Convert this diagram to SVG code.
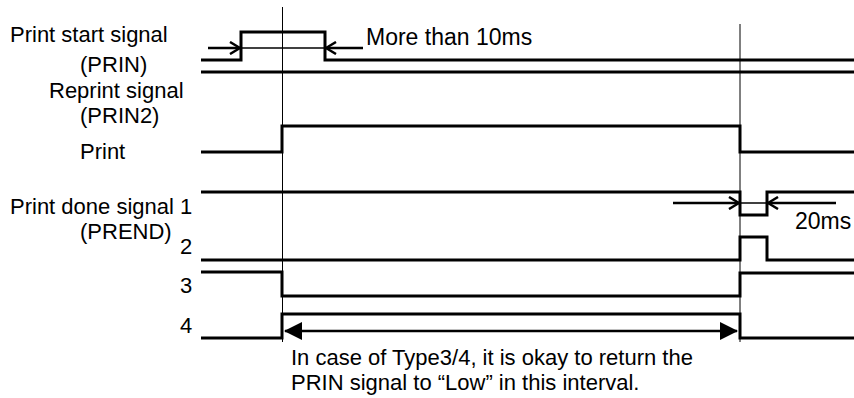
<svg xmlns="http://www.w3.org/2000/svg" width="854" height="398" viewBox="0 0 854 398">
<style>
text{font-family:"Liberation Sans",Arial,sans-serif;font-size:22px;fill:#000}
.dim{font-size:23px}
.sig{fill:none;stroke:#000;stroke-width:3;stroke-linejoin:miter}
.ref{fill:none;stroke:#000;stroke-width:1}
.thin{fill:none;stroke:#000;stroke-width:1.5}
.arr{fill:none;stroke:#000;stroke-width:2.5}
</style>
<defs>
<marker id="open" viewBox="0 0 12 14" refX="11" refY="7" markerWidth="12" markerHeight="14" markerUnits="userSpaceOnUse" orient="auto">
<path d="M1,1 L11,7 L1,13" fill="none" stroke="#000" stroke-width="2.5"/>
</marker>
<marker id="solid" viewBox="0 0 18 18" refX="17" refY="9" markerWidth="18" markerHeight="18" markerUnits="userSpaceOnUse" orient="auto-start-reverse">
<path d="M0,0 L18,9 L0,18 Z" fill="#000"/>
</marker>
</defs>
<g id="labels">
<text x="10" y="42">Print start signal</text>
<text x="80" y="72">(PRIN)</text>
<text x="49" y="98">Reprint signal</text>
<text x="80" y="123">(PRIN2)</text>
<text x="80" y="159">Print</text>
<text x="10" y="214">Print done signal 1</text>
<text x="80" y="239">(PREND)</text>
<text x="180" y="254">2</text>
<text x="180" y="293">3</text>
<text x="180" y="333">4</text>
</g>
<g id="reference-lines">
<line class="ref" x1="282.5" y1="7" x2="282.5" y2="342"/>
<line class="ref" x1="740" y1="24" x2="740" y2="342"/>
</g>
<g id="signals">
<path id="prin" class="sig" d="M201,60 H241 V32 H325 V60 H854"/>
<path id="prin2" class="sig" d="M201,72 H854"/>
<path id="print" class="sig" d="M201,152 H282 V126 H740 V152 H854"/>
<path id="prend1" class="sig" d="M201,192 H740 V215 H767 V192 H854"/>
<path id="prend2" class="sig" d="M201,260 H740 V237 H767 V260 H854"/>
<path id="prend3" class="sig" d="M201,272 H282 V296 H740 V273 H854"/>
<path id="prend4" class="sig" d="M201,338 H282 V314 H740 V338 H854"/>
</g>
<g id="connectors">
<line class="thin" x1="241" y1="48" x2="325" y2="48"/>
<line class="arr" x1="208" y1="48" x2="240" y2="48" marker-end="url(#open)"/>
<line class="arr" x1="363" y1="48" x2="326" y2="48" marker-end="url(#open)"/>
<line class="thin" x1="740" y1="203" x2="767" y2="203"/>
<line class="arr" x1="673" y1="203" x2="739" y2="203" marker-end="url(#open)"/>
<line class="arr" x1="836" y1="203" x2="768" y2="203" marker-end="url(#open)"/>
<line class="arr" x1="285" y1="331" x2="737" y2="331" stroke-width="2" marker-start="url(#solid)" marker-end="url(#solid)"/>
</g>
<g id="annotations">
<text class="dim" x="366" y="45">More than 10ms</text>
<text class="dim" x="795" y="229">20ms</text>
<text x="291" y="365">In case of Type3/4, it is okay to return the</text>
<text x="291" y="390">PRIN signal to “Low” in this interval.</text>
</g>
</svg>
